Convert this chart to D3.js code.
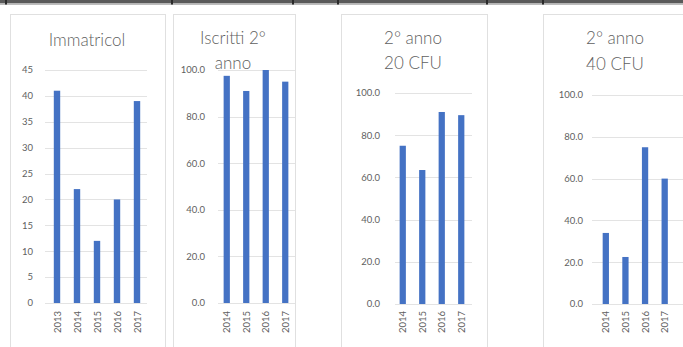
<!DOCTYPE html>
<html><head><meta charset="utf-8">
<script src="https://cdn.jsdelivr.net/npm/d3@7"></script>
<style>
html,body{margin:0;padding:0;background:#fff;}
svg{display:block;}
text{font-family:Lato,"Liberation Sans",sans-serif;}
</style></head>
<body><svg id="c" width="683" height="347"></svg>
<script>
// ---- data ----
const yearsA = ["2013","2014","2015","2016","2017"];
const yearsB = ["2014","2015","2016","2017"];
const immatricolati = [41, 22, 12, 20, 39];
const iscritti2anno = [97.5, 91, 100, 95];
const anno2cfu20 = [75, 63.5, 91, 89.5];
const anno2cfu40 = [34, 22.5, 75, 60];
const ticksA = [0,5,10,15,20,25,30,35,40,45];
const ticksB = [0,20,40,60,80,100];
const titles = [["Immatricol"],["Iscritti 2°","anno"],["2° anno","20 CFU"],["2° anno","40 CFU"]];

// ---- layout ----
const panels = [
  {years:yearsA, vals:immatricolati, ticks:ticksA, max:45, fmt:d3.format("d"),
   box:[10,165], x:[47,147], y:[303,70], grid:[45,147], labelX:33, tx:87, ty:[46]},
  {years:yearsB, vals:iscritti2anno, ticks:ticksB, max:100, fmt:d3.format(".1f"),
   box:[173,295], x:[217,295], y:[303,70], grid:[218,295], labelX:205, tx:233, ty:[44,69]},
  {years:yearsB, vals:anno2cfu20, ticks:ticksB, max:100, fmt:d3.format(".1f"),
   box:[341,487], x:[393,471], y:[304,93], grid:[395,472], labelX:380, tx:413, ty:[44,69]},
  {years:yearsB, vals:anno2cfu40, ticks:ticksB, max:100, fmt:d3.format(".1f"),
   box:[543,720], x:[596,674.5], y:[304,95], grid:[592,690], labelX:583, tx:615, ty:[44,70]}
];

const svg = d3.select("#c");
const textCol = "#5f5f5f";

panels.forEach((p,i)=>{
  const g = svg.append("g");
  // panel box
  g.append("rect").attr("x",p.box[0]+0.5).attr("y",14.5)
    .attr("width",p.box[1]-p.box[0]).attr("height",360)
    .attr("fill","#fff").attr("stroke","#e0e0e0");
  const x = d3.scaleBand().domain(p.years).range(p.x).paddingInner(0.68).paddingOuter(0.34);
  const y = d3.scaleLinear().domain([0,p.max]).range(p.y);
  // gridlines
  g.selectAll(".gl").data(p.ticks).join("line")
    .attr("x1",p.grid[0]).attr("x2",p.grid[1])
    .attr("y1",d=>Math.round(y(d))+0.5).attr("y2",d=>Math.round(y(d))+0.5)
    .attr("stroke","#e3e3e3");
  // y labels
  g.selectAll(".yl").data(p.ticks).join("text")
    .attr("x",p.labelX).attr("y",d=>y(d)).attr("dy","0.35em")
    .attr("text-anchor","end").attr("font-size",9.5).attr("fill",textCol)
    .text(d=>p.fmt(d));
  // bars
  g.selectAll(".bar").data(p.vals).join("rect")
    .attr("x",(d,j)=>x(p.years[j])).attr("width",x.bandwidth())
    .attr("y",d=>y(d)).attr("height",d=>y(0)-y(d))
    .attr("fill","#4472C4");
  // x labels
  g.selectAll(".xl").data(p.years).join("text")
    .attr("transform",d=>`translate(${x(d)+x.bandwidth()/2+3.5},311) rotate(-90)`)
    .attr("text-anchor","end").attr("font-size",9.5).attr("fill",textCol)
    .text(d=>d);
  // title
  titles[i].forEach((t,k)=>{
    g.append("text").attr("x",p.tx).attr("y",p.ty[k]).attr("text-anchor","middle")
      .attr("font-size",17).attr("font-weight",300).attr("fill",textCol).text(t);
  });
});

// top dark bar with ticks
svg.append("rect").attr("x",0).attr("y",0).attr("width",683).attr("height",3.5).attr("fill","#5a5a5a");
svg.append("rect").attr("x",0).attr("y",3.5).attr("width",683).attr("height",1.5).attr("fill","#bdbdbd");
const topTicks = [6,172,293,338,487,543];
svg.selectAll(".tt").data(topTicks).join("rect")
  .attr("x",d=>d-1).attr("y",0).attr("width",2).attr("height",4.5).attr("fill","#2a2a2a");
</script></body></html>
